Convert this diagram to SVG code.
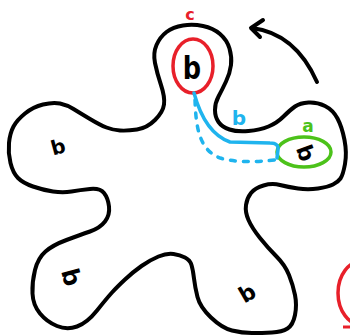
<svg xmlns="http://www.w3.org/2000/svg" width="350" height="335" viewBox="0 0 350 335">
<style>
.ink{fill:none;stroke:#000;stroke-width:4;stroke-linecap:round;stroke-linejoin:round}
.mark{font-family:"DejaVu Sans",sans-serif;font-weight:bold;fill:#000;text-anchor:middle}
.lbl{font-family:"DejaVu Sans",sans-serif;font-weight:bold;text-anchor:middle}
</style>
<rect width="350" height="335" fill="#fff"/>
<g id="surface">
<path class="ink" d="M 164,104.5 Q 165,97 161,85 Q 157,73 155,63 Q 153,53 156.5,45 Q 160,37 166.5,32 Q 173,27 183,25.5 Q 193,24 203,26 Q 213,28 220,34 Q 227,40 229.5,48.5 Q 232,57 231,65 Q 230,73 226,81.5 Q 222,90 218.5,96.5 Q 215,103 215,110 Q 215,117 218.5,122 Q 222,127 229.5,129.5 Q 237,132 248.5,131 Q 260,130 268.5,126.5 Q 277,123 283.5,116.5 Q 290,110 295,106.5 Q 300,103 308.5,102.5 Q 317,102 325,106 Q 333,110 337.5,118.5 Q 342,127 344.5,140 Q 347,153 345,164 Q 343,175 340.5,178.5 Q 338,182 333,184.5 Q 328,187 318,188.5 Q 308,190 298,188.5 Q 288,187 280,185 Q 272,183 263.5,185.5 Q 255,188 251,193 Q 247,198 246,205 Q 245,212 248.5,220 Q 252,228 260,238 Q 268,248 276.5,256.5 Q 285,265 289,275 Q 293,285 295,295 Q 297,305 295,315 Q 293,325 287.5,328.5 Q 282,332 272,332.5 Q 262,333 252,333 Q 242,333 232,330.5 Q 222,328 211,317.5 Q 200,307 197.5,297 Q 195,287 194,278.5 Q 193,270 191.5,265 Q 190,260 185,257.5 Q 180,255 173.5,254 Q 167,253 158.5,256.5 Q 150,260 141.5,266 Q 133,272 125,279.5 Q 117,287 112,292.5 Q 107,298 97,310.5 Q 87,323 77,326.5 Q 67,330 57,326 Q 47,322 40,313.5 Q 33,305 32.5,293.5 Q 32,282 35,270 Q 38,258 45.5,251.5 Q 53,245 66.5,240 Q 80,235 90,231.5 Q 100,228 105,221.5 Q 110,215 109,206.5 Q 108,198 104,193 Q 100,188 90,189 Q 80,190 71.5,191.5 Q 63,193 53,191.5 Q 43,190 33,186.5 Q 23,183 18,178 Q 13,173 10.5,163 Q 8,153 9,143 Q 10,133 13.5,126.5 Q 17,120 25,113.5 Q 33,107 43,104.5 Q 53,102 60,103.5 Q 67,105 73.5,109 Q 80,113 90,119 Q 100,125 106.5,127.5 Q 113,130 120,130.5 Q 127,131 137,129.5 Q 147,128 155,120 Q 163,112 164,104.5 Z"/>
</g>
<g id="punctures">
<text class="mark" font-size="32" transform="translate(192,67) scale(0.8,1)" y="12">b</text>
<text class="mark" font-size="20" transform="translate(58,147) rotate(-15)" y="7">b</text>
<text class="mark" font-size="24" transform="translate(72,277) rotate(75)" y="9">b</text>
<text class="mark" font-size="22" transform="translate(247,293) rotate(-30)" y="8">b</text>
<text class="mark" font-size="22" transform="translate(306,153) rotate(70)" y="8">b</text>
</g>
<g id="node-c">
<ellipse cx="193" cy="66" rx="20" ry="27" fill="none" stroke="#e8202a" stroke-width="3.5"/>
<text class="lbl" x="190" y="20" font-size="16" fill="#e8202a">c</text>
</g>
<g id="node-a">
<ellipse cx="304" cy="152" rx="27" ry="15" fill="none" stroke="#4cc21a" stroke-width="3.5"/>
<text class="lbl" x="308" y="132" font-size="17" fill="#4cc21a">a</text>
</g>
<g id="node-partial">
<ellipse cx="362" cy="293" rx="24" ry="32" fill="none" stroke="#e8202a" stroke-width="3.5"/>
<path d="M 343,327 L 350,327" stroke="#e8202a" stroke-width="3" fill="none"/>
</g>
<g id="connectors">
<path d="M 194,93 C 200,115 210,135 230,142 L 270,143 Q 279,143 278,150 L 277,158" fill="none" stroke="#1fb4ee" stroke-width="3.5" stroke-linecap="round" stroke-linejoin="round"/>
<path d="M 195,100 C 196,130 200,150 220,158 Q 240,164 275,160" fill="none" stroke="#1fb4ee" stroke-width="3.5" stroke-linecap="round" stroke-dasharray="5 8"/>
<text class="lbl" x="239" y="125" font-size="20" fill="#1fb4ee">b</text>
<path class="ink" d="M 317,82 C 305,55 285,32 252,28"/>
<path class="ink" d="M 263,20 L 251,28 L 260,37"/>
</g>
</svg>
